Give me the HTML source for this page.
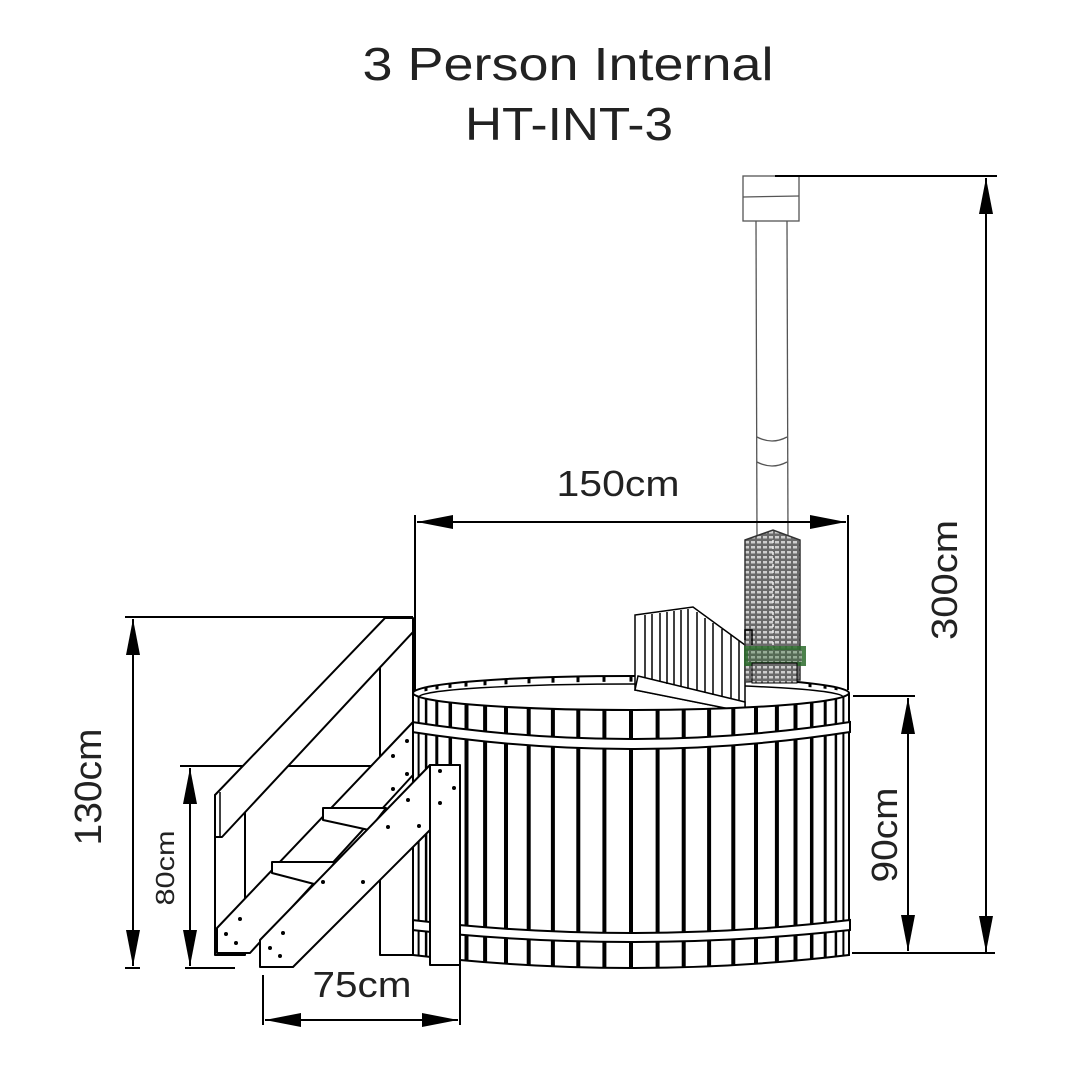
<!DOCTYPE html>
<html><head><meta charset="utf-8"><style>
html,body{margin:0;padding:0;background:#fff;}
svg{display:block;}
text{font-family:"Liberation Sans",sans-serif;fill:#222;}
</style></head><body>
<svg width="1080" height="1080" viewBox="0 0 1080 1080" xmlns="http://www.w3.org/2000/svg">
<defs>
<pattern id="stone" width="6" height="5" patternUnits="userSpaceOnUse">
<rect width="6" height="5" fill="#6a6a6a"/>
<rect x="1" y="1" width="4" height="2.5" fill="#cfcfcf"/>
</pattern>
<clipPath id="body"><path d="M413,693 A218,17 0 0 0 849,693 L849,955 Q631,981 413,955 Z"/></clipPath>
<clipPath id="rim"><path d="M413,693 A218,17 0 0 1 849,693 A212,13 0 0 0 419,697 Z"/></clipPath>
<marker id="ah" viewBox="0 0 36 14" refX="36" refY="7" markerWidth="36" markerHeight="14" markerUnits="userSpaceOnUse" orient="auto-start-reverse"><path d="M0,0 L36,7 L0,14 Z" fill="#000"/></marker>
</defs>

<text x="568" y="80" font-size="46" text-anchor="middle" textLength="411" lengthAdjust="spacingAndGlyphs">3 Person Internal</text>
<text x="569" y="140" font-size="46" text-anchor="middle" textLength="208" lengthAdjust="spacingAndGlyphs">HT-INT-3</text>

<!-- chimney -->
<g stroke="#555" stroke-width="1.3" fill="#fff">
<rect x="743" y="176" width="56" height="45"/>
<line x1="743" y1="197" x2="799" y2="196"/>
<line x1="756" y1="221" x2="757" y2="540"/>
<line x1="787" y1="221" x2="788" y2="540"/>
<path d="M757,437 Q772,445 787,437" fill="none"/>
<path d="M757,462 Q772,470 787,462" fill="none"/>
</g>
<line x1="775" y1="176" x2="997" y2="176" stroke="#000" stroke-width="2"/>

<!-- dimension lines -->
<g stroke="#000" stroke-width="2" fill="none">
<line x1="415" y1="515" x2="415" y2="700"/>
<line x1="848" y1="515" x2="848" y2="690"/>
<line x1="417" y1="522" x2="846" y2="522" marker-start="url(#ah)" marker-end="url(#ah)"/>
<line x1="986" y1="178" x2="986" y2="952" marker-start="url(#ah)" marker-end="url(#ah)"/>
<line x1="853" y1="696" x2="915" y2="696"/>
<line x1="852" y1="953" x2="995" y2="953"/>
<line x1="908" y1="698" x2="908" y2="951" marker-start="url(#ah)" marker-end="url(#ah)"/>
<line x1="125" y1="617" x2="413" y2="617"/>
<line x1="125" y1="968" x2="140" y2="968"/>
<line x1="133" y1="619" x2="133" y2="966" marker-start="url(#ah)" marker-end="url(#ah)"/>
<line x1="180" y1="766" x2="420" y2="766"/>
<line x1="185" y1="968" x2="235" y2="968"/>
<line x1="190" y1="768" x2="190" y2="966" marker-start="url(#ah)" marker-end="url(#ah)"/>
<line x1="263" y1="975" x2="263" y2="1025"/>
<line x1="460" y1="965" x2="460" y2="1025"/>
<line x1="265" y1="1020" x2="458" y2="1020" marker-start="url(#ah)" marker-end="url(#ah)"/>
</g>
<text x="618" y="496" font-size="36" text-anchor="middle" textLength="123" lengthAdjust="spacingAndGlyphs">150cm</text>
<text x="362" y="997" font-size="36" text-anchor="middle" textLength="99" lengthAdjust="spacingAndGlyphs">75cm</text>
<text transform="translate(957,580) rotate(-90)" font-size="36" text-anchor="middle" textLength="120" lengthAdjust="spacingAndGlyphs">300cm</text>
<text transform="translate(897,835) rotate(-90)" font-size="36" text-anchor="middle" textLength="95" lengthAdjust="spacingAndGlyphs">90cm</text>
<text transform="translate(101,787) rotate(-90)" font-size="38" text-anchor="middle" textLength="117" lengthAdjust="spacingAndGlyphs">130cm</text>
<text transform="translate(174,868) rotate(-90)" font-size="26" text-anchor="middle" textLength="75" lengthAdjust="spacingAndGlyphs">80cm</text>

<!-- tub back rim -->
<g stroke="#000" stroke-width="2">
<ellipse cx="631" cy="693" rx="218" ry="17" fill="#fff"/>
<ellipse cx="631" cy="697" rx="212" ry="13" fill="#fff" stroke-width="1.5"/>
</g>
<g clip-path="url(#rim)" stroke="#000" stroke-width="3">
<line x1="426" y1="670" x2="426" y2="700"/><line x1="437" y1="670" x2="437" y2="700"/><line x1="450" y1="670" x2="450" y2="700"/><line x1="466" y1="670" x2="466" y2="700"/><line x1="485" y1="670" x2="485" y2="700"/><line x1="506" y1="670" x2="506" y2="700"/><line x1="529" y1="670" x2="529" y2="700"/><line x1="553" y1="670" x2="553" y2="700"/><line x1="578" y1="670" x2="578" y2="700"/><line x1="604" y1="670" x2="604" y2="700"/><line x1="631" y1="670" x2="631" y2="700"/><line x1="810" y1="670" x2="810" y2="700"/><line x1="825" y1="670" x2="825" y2="700"/><line x1="836" y1="670" x2="836" y2="700"/>
</g>
<!-- backrest -->
<g stroke="#000" stroke-width="1.5" fill="#fff">
<path d="M635,615 L693,607 L745,645 L745,712 L635,690 Z"/>
<path d="M638,676 L745,702 L745,712 L635,690 Z"/>
</g>
<g stroke="#000" stroke-width="1.5">
<line x1="645" y1="615" x2="645" y2="678"/><line x1="652" y1="614" x2="652" y2="680"/><line x1="660" y1="613" x2="660" y2="682"/><line x1="667" y1="612" x2="667" y2="684"/><line x1="674" y1="611" x2="674" y2="685"/><line x1="681" y1="610" x2="681" y2="687"/><line x1="688" y1="609" x2="688" y2="689"/><line x1="697" y1="612" x2="697" y2="691"/><line x1="705" y1="618" x2="705" y2="693"/><line x1="713" y1="623" x2="713" y2="695"/><line x1="722" y1="629" x2="722" y2="697"/><line x1="731" y1="635" x2="731" y2="699"/><line x1="739" y1="641" x2="739" y2="701"/>
</g>
<!-- heater -->
<path d="M745,540 L773,530 L800,540 L800,680 L745,682 Z" fill="url(#stone)" stroke="#333" stroke-width="1.5"/>
<line x1="773" y1="540" x2="773" y2="680" stroke="#eee" stroke-width="1.5" stroke-dasharray="3,3"/>
<rect x="744" y="646" width="62" height="20" fill="#2b6b2b" opacity="0.85"/>
<rect x="748" y="650" width="54" height="12" fill="url(#stone)" opacity="0.6"/>
<rect x="752" y="663" width="45" height="20" fill="url(#stone)" stroke="#000"/>
<path d="M745,640 L745,630 L752,630 L752,645" fill="none" stroke="#000" stroke-width="1.5"/>

<!-- tub body -->
<path d="M413,693 A218,17 0 0 0 849,693 L849,955 Q631,981 413,955 Z" fill="#fff"/>
<g clip-path="url(#body)" stroke="#000" stroke-width="4">
<line x1="631" y1="680" x2="631" y2="990"/>
<line x1="657.6" y1="680" x2="657.6" y2="990"/><line x1="604.4" y1="680" x2="604.4" y2="990"/>
<line x1="683.7" y1="680" x2="683.7" y2="990"/><line x1="578.3" y1="680" x2="578.3" y2="990"/>
<line x1="709.1" y1="680" x2="709.1" y2="990"/><line x1="552.9" y1="680" x2="552.9" y2="990"/>
<line x1="733.3" y1="680" x2="733.3" y2="990"/><line x1="528.7" y1="680" x2="528.7" y2="990"/>
<line x1="756" y1="680" x2="756" y2="990"/><line x1="506" y1="680" x2="506" y2="990"/>
<line x1="776.9" y1="680" x2="776.9" y2="990"/><line x1="485.1" y1="680" x2="485.1" y2="990"/>
<line x1="795.5" y1="680" x2="795.5" y2="990"/><line x1="466.5" y1="680" x2="466.5" y2="990"/>
<line x1="811.7" y1="680" x2="811.7" y2="990" stroke-width="3.5"/><line x1="450.3" y1="680" x2="450.3" y2="990" stroke-width="3.5"/>
<line x1="825.2" y1="680" x2="825.2" y2="990" stroke-width="3"/><line x1="436.8" y1="680" x2="436.8" y2="990" stroke-width="3"/>
<line x1="835.9" y1="680" x2="835.9" y2="990" stroke-width="2.5"/><line x1="426.1" y1="680" x2="426.1" y2="990" stroke-width="2.5"/>
<line x1="843.4" y1="680" x2="843.4" y2="990" stroke-width="2"/><line x1="418.6" y1="680" x2="418.6" y2="990" stroke-width="2"/>
</g>
<path d="M413,693 A218,17 0 0 0 849,693 L849,955 Q631,981 413,955 Z" fill="none" stroke="#000" stroke-width="2"/>
<!-- bands -->
<g fill="#fff" stroke="#000" stroke-width="2">
<path d="M412,722 Q631,756 850,722 L850,732 Q631,766 412,732 Z"/>
<path d="M412,920 Q631,946 850,920 L850,930 Q631,954 412,930 Z"/>
</g>

<!-- stairs -->
<g stroke="#000" stroke-width="2" fill="#fff" stroke-linejoin="round">
<rect x="380" y="630" width="33" height="325"/>
<rect x="215" y="795" width="30" height="160"/>
<path d="M215,795 L385,618 L413,618 L413,632 L222,837 L215,837 Z"/>
<line x1="220" y1="792" x2="220" y2="837" stroke-width="1.5"/>
<path d="M217,928 L413,722 L413,775 L250,953 L217,953 Z"/>
<path d="M272,862 L335,862 L318,885 L272,873 Z"/>
<path d="M323,808 L386,808 L369,830 L323,820 Z"/>
<path d="M260,940 L430,765 L430,830 L293,967 L260,967 Z"/>
<rect x="430" y="765" width="30" height="200"/>
</g>
<g fill="#000">
<circle cx="240" cy="919" r="2"/><circle cx="226" cy="934" r="2"/><circle cx="236" cy="943" r="2"/>
<circle cx="283" cy="933" r="2"/><circle cx="270" cy="948" r="2"/><circle cx="280" cy="956" r="2"/>
<circle cx="363" cy="882" r="2"/><circle cx="323" cy="882" r="2"/><circle cx="388" cy="827" r="2"/><circle cx="419" cy="826" r="2"/>
<circle cx="408" cy="800" r="2"/><circle cx="393" cy="789" r="2"/><circle cx="407" cy="774" r="2"/><circle cx="393" cy="756" r="2"/><circle cx="407" cy="741" r="2"/>
<circle cx="440" cy="771" r="2"/><circle cx="454" cy="788" r="2"/><circle cx="440" cy="803" r="2"/>
</g>
</svg>
</body></html>
